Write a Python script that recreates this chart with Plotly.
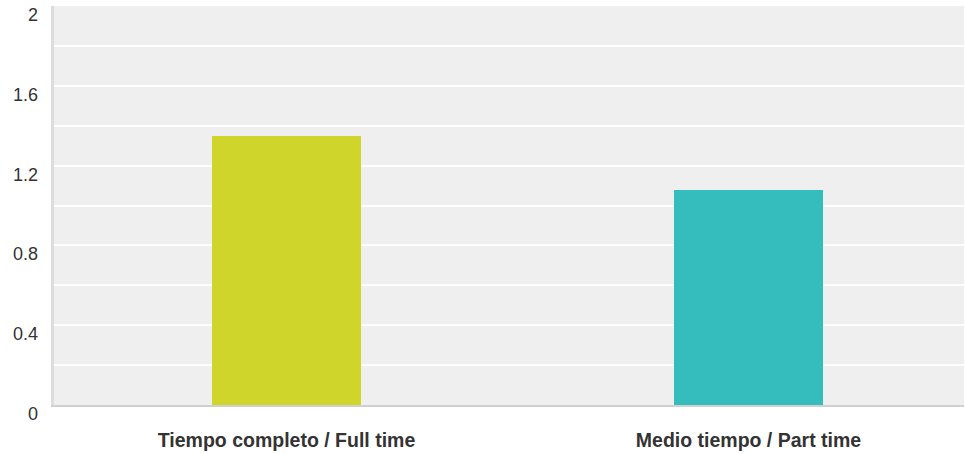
import plotly.graph_objects as go

categories = ["Tiempo completo / Full time", "Medio tiempo / Part time"]
values = [1.35, 1.08]
bar_colors = ["#CFD52A", "#35BDBE"]
ytick_vals = [0, 0.4, 0.8, 1.2, 1.6, 2]
ytick_text = ["0", "0.4", "0.8", "1.2", "1.6", "2"]

fig = go.Figure(go.Bar(
    x=[0, 1], y=values, marker=dict(color=bar_colors, line=dict(width=0)),
    width=0.3225, hoverinfo="skip",
))

annotations = []
for v, t in zip(ytick_vals, ytick_text):
    annotations.append(dict(
        x=0, xref="paper", y=v, yref="y", text=t, showarrow=False,
        xanchor="right", yanchor="middle", xshift=-14, yshift=-9,
        font=dict(family="Liberation Sans, Arial", size=18, color="#333333"),
    ))

fig.update_layout(
    width=965, height=454,
    margin=dict(l=54, r=1, t=6, b=49),
    paper_bgcolor="white", plot_bgcolor="#EFEFEF",
    showlegend=False,
    bargap=0,
    annotations=annotations,
    xaxis=dict(
        range=[-0.5032, 1.4665], tickmode="array", tickvals=[0, 1], ticktext=categories,
        showgrid=False, zeroline=False, showline=True, linecolor="#D0D0D0", linewidth=2,
        ticks="", ticklabelstandoff=17,
        tickfont=dict(family="Liberation Sans, Arial", size=19.5, color="#333333", weight="bold"),
    ),
    yaxis=dict(
        range=[0, 2], dtick=0.2, tick0=0, showticklabels=False,
        showgrid=True, gridcolor="white", gridwidth=2, zeroline=False,
        showline=True, linecolor="#DDDDDD", linewidth=3, ticks="",
    ),
)

fig.write_html(
    "out.html",
    config={"displayModeBar": False},
    post_script="document.body.style.margin='0';document.body.style.overflow='hidden';",
)
